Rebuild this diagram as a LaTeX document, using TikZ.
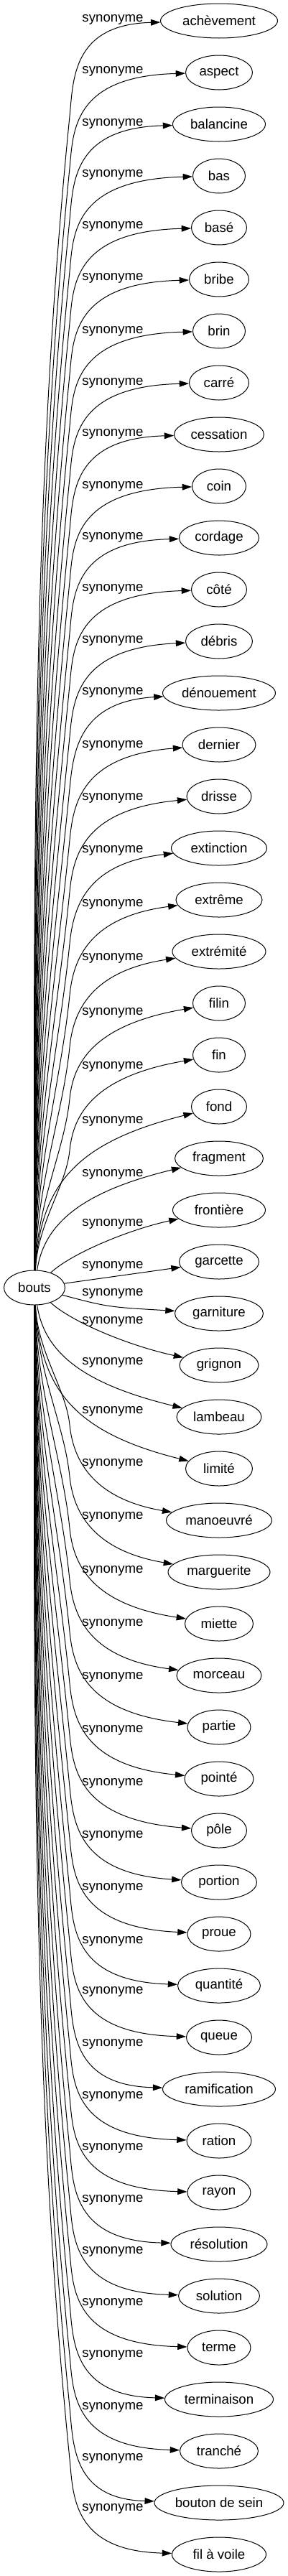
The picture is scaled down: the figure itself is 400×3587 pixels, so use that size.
\documentclass[tikz,border=0pt]{standalone}
\usepackage{fontspec}
\setmainfont{Liberation Sans}
\usetikzlibrary{arrows.meta,shapes.geometric}
\begin{document}
\begin{tikzpicture}[x=0.75pt,y=-0.75pt,
  syn/.style={draw, ellipse, line width=0.75pt, inner sep=0pt, minimum height=36pt, font=\fontsize{14}{16}\selectfont},
  lbl/.style={inner sep=0pt, font=\fontsize{14}{16}\selectfont},
  edge/.style={line width=0.75pt, -{Triangle[length=10pt,width=6.5pt]}}]
\useasboundingbox (0,0) rectangle (400,3587);
\node[syn, minimum width=63.75pt] (bouts) at (48,1793) {bouts};
\foreach \i/\nm/\ww/\lyy in {0/achèvement/163/27, 1/aspect/93/99, 2/balancine/129/172, 3/bas/73/243, 4/basé/77/315, 5/bribe/83/387, 6/brin/73/461, 7/carré/83/533, 8/cessation/125/604, 9/coin/75/677, 10/cordage/111/748, 11/côté/77/820, 12/débris/93/892, 13/dénouement/157/964, 14/dernier/102/1038, 15/drisse/90/1111, 16/extinction/133/1184, 17/extrême/120/1259, 18/extrémité/130/1334, 19/filin/73/1410, 20/fin/73/1485, 21/fond/77/1561, 22/fragment/123/1635, 23/frontière/129/1704, 24/garcette/111/1763, 25/garniture/123/1801, 26/grignon/110/1840, 27/lambeau/118/1897, 28/limité/93/1965, 29/manoeuvré/147/2038, 30/marguerite/142/2112, 31/miette/95/2187, 32/morceau/118/2261, 33/partie/88/2335, 34/pointé/96/2409, 35/pôle/77/2483, 36/portion/105/2556, 37/proue/88/2629, 38/quantité/115/2703, 39/queue/91/2773, 40/ramification/157/2846, 41/ration/90/2919, 42/rayon/88/2991, 43/résolution/134/3063, 44/solution/113/3135, 45/terme/88/3207, 46/terminaison/151/3279, 47/tranché/109/3352, 48/bouton de sein/180/3423, 49/fil à voile/131/3493}{
  \pgfmathsetmacro\yt{29+72*\i}
  \pgfmathsetmacro\mw{\ww*0.75}
  \node[syn, minimum width=\mw pt] (n\i) at (305,\yt) {\nm};
  \node[lbl] (l\i) at (157,\lyy) {synonyme};
  \pgfmathtruncatemacro\dist{abs(\yt-1793)}
  \pgfmathsetmacro\sgn{(\i<24)?-1:1}
  \ifnum\dist>300
    \pgfmathsetmacro\LL{\dist-157}
    \pgfmathsetmacro\xs{46+8*(1-\dist/1764)}
    \pgfmathsetmacro\yca{1793+\sgn*(24+0.4*\LL)}
    \pgfmathsetmacro\yb{1793+\sgn*(\dist-133)}
    \pgfmathsetmacro\xcb{97-0.03*\LL}
    \pgfmathsetmacro\ycb{1793+\sgn*(\dist-133-0.3*\LL)}
    \pgfmathsetmacro\fac{max(0,min(1,(1000-\dist)/600))}
    \pgfmathsetmacro\ycc{1793+\sgn*(\dist-83)}
    \pgfmathsetmacro\xcd{100+30*\fac}
    \pgfmathsetmacro\ycd{1793+\sgn*(\dist-5-25*\fac)}
    \draw[edge] (bouts) .. controls (\xs,\yca) and (\xcb,\ycb) .. (97,\yb) .. controls (102,\ycc) and (\xcd,\ycd) .. (n\i);
  \else
    \ifnum\dist=252
      \pgfmathsetmacro\yca{1793+\sgn*143}
      \pgfmathsetmacro\ycb{1793+\sgn*202}
      \draw[edge] (bouts) .. controls (56,\yca) and (105,\ycb) .. (n\i);
    \else
      \ifnum\dist=180
        \pgfmathsetmacro\yca{1793+\sgn*93}
        \pgfmathsetmacro\ycb{1793+\sgn*135}
        \draw[edge] (bouts) .. controls (62,\yca) and (120,\ycb) .. (n\i);
      \else
        \ifnum\dist=108
          \pgfmathsetmacro\yca{1793+\sgn*48}
          \pgfmathsetmacro\ycb{1793+\sgn*81}
          \draw[edge] (bouts) .. controls (100,\yca) and (180,\ycb) .. (n\i);
        \else
          \ifnum\i=24
            \draw[edge] (bouts) -- (n\i);
          \else
            \draw[edge] (bouts) .. controls (150,1820) .. (n\i);
          \fi
        \fi
      \fi
    \fi
  \fi
}
\end{tikzpicture}
\end{document}
